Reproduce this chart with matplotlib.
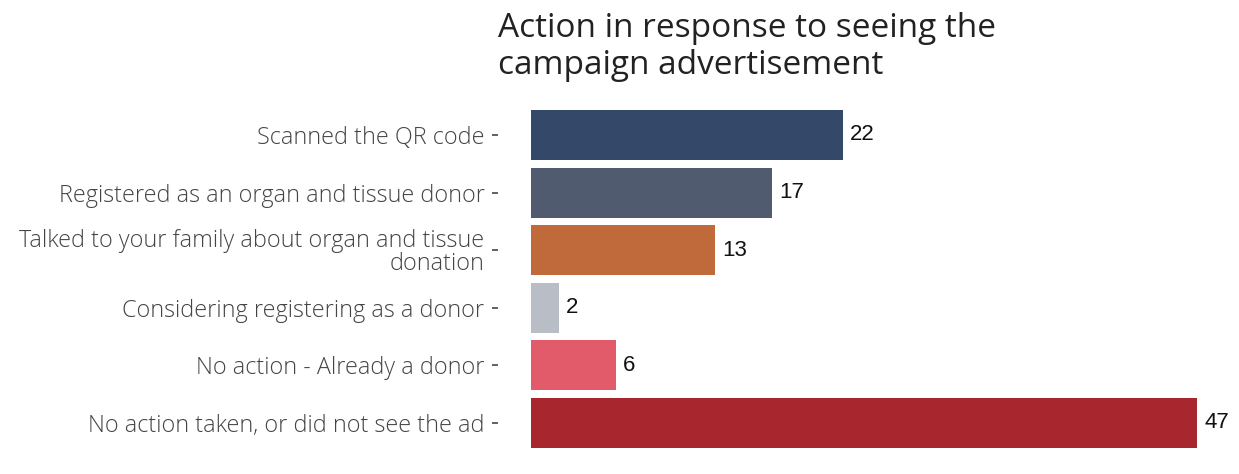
import matplotlib.pyplot as plt

actions = [
    "Scanned the QR code",
    "Registered as an organ and tissue donor",
    "Talked to your family about organ and tissue\ndonation",
    "Considering registering as a donor",
    "No action - Already a donor",
    "No action taken, or did not see the ad",
]
counts = [22, 17, 13, 2, 6, 47]
colors = ["#34496a", "#505b70", "#c0693b", "#b9bdc5", "#e15b6b", "#a8272f"]
title_lines = ["Action in response to seeing the", "campaign advertisement"]

fig = plt.figure(figsize=(12.39, 4.74), dpi=100)
ax = fig.add_axes([0.4286, 0.047, 0.5376, 0.729])

# spine offset first: moving the spine resets the tick labels
for spine in ax.spines.values():
    spine.set_visible(False)
ax.spines["left"].set_position(("outward", 24))

y = list(range(len(actions)))
ax.barh(y, counts, height=0.87, color=colors)
ax.set_ylim(len(actions) - 0.5, -0.5)
ax.set_xlim(0, 47)

for yi, c in zip(y, counts):
    ax.annotate(str(c), (c, yi), xytext=(5, 0), textcoords="offset points",
                va="center", ha="left", fontsize=16,
                family="Liberation Sans", color="#111111")

ax.set_yticks(y)
ax.set_yticklabels(actions, fontsize=16.8, family="Open Sans", fontweight="light",
                   color="#444444", linespacing=0.92)
ax.tick_params(axis="y", length=4.5, width=1.3, color="#555555", pad=5)
ax.set_xticks([])

# two-line title, each line placed on its own baseline
for line, yb in zip(title_lines, [0.922, 0.844]):
    fig.text(0.402, yb, line, ha="left", va="baseline", fontsize=24,
             family="Open Sans", color="#222222")

fig.savefig("out.png", dpi=100, facecolor="white")
